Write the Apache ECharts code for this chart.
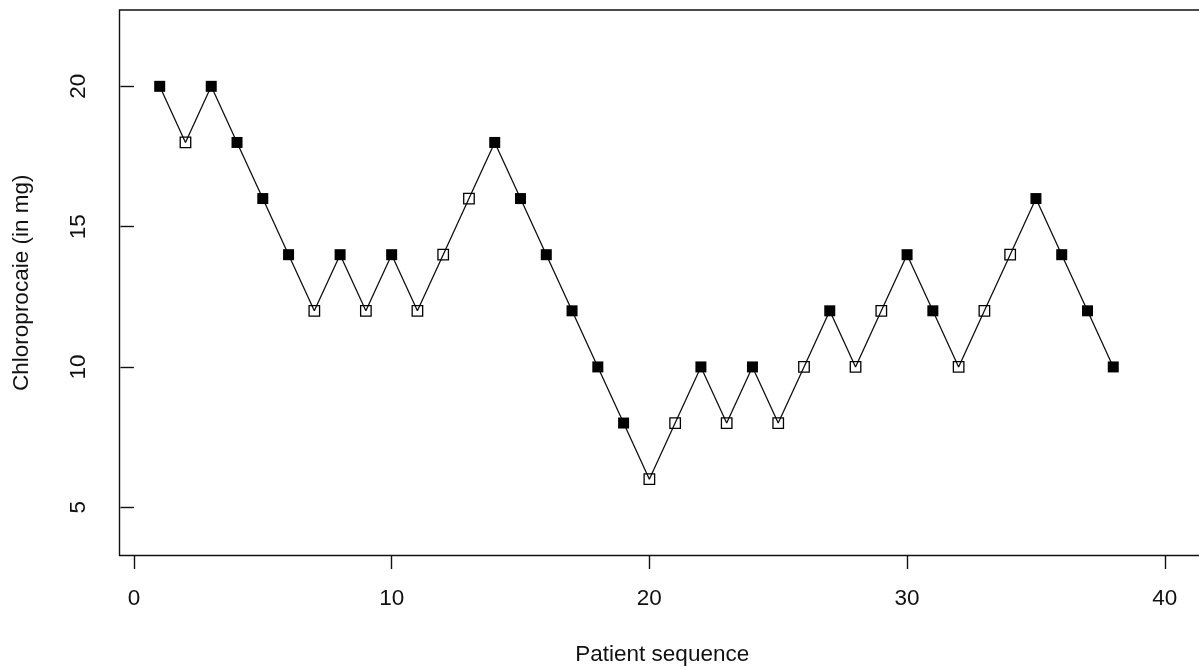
<!DOCTYPE html>
<html>
<head>
<meta charset="utf-8">
<script src="https://cdn.jsdelivr.net/npm/echarts@6/dist/echarts.min.js"></script>
<style>
  html, body { margin: 0; padding: 0; background: #fff; }
  #chart { width: 1199px; height: 668px; }
</style>
</head>
<body>
<div id="chart"></div>
<script>
// Up-and-down sequence: dose given to each patient, and whether it worked
var patients = [1, 2, 3, 4, 5, 6, 7, 8, 9, 10, 11, 12, 13, 14, 15, 16, 17, 18, 19, 20,
                21, 22, 23, 24, 25, 26, 27, 28, 29, 30, 31, 32, 33, 34, 35, 36, 37, 38];
var doses = [20, 18, 20, 18, 16, 14, 12, 14, 12, 14, 12, 14, 16, 18, 16, 14, 12, 10, 8, 6,
             8, 10, 8, 10, 8, 10, 12, 10, 12, 14, 12, 10, 12, 14, 16, 14, 12, 10];
// 1 = success (filled square), 0 = failure (open square)
var success = [1, 0, 1, 1, 1, 1, 0, 1, 0, 1, 0, 0, 0, 1, 1, 1, 1, 1, 1, 0,
               0, 1, 0, 1, 0, 0, 1, 0, 0, 1, 1, 0, 0, 0, 1, 1, 1, 1];

var xTicks = [0, 10, 20, 30, 40];
var yTicks = [5, 10, 15, 20];

var FONT = '"Liberation Sans", Arial, sans-serif';
var INK = '#111';
var FS = 22.5;

var linePoints = patients.map((p, i) => [p, doses[i]]);
var filledPoints = linePoints.filter((d, i) => success[i] === 1);
var openPoints = linePoints.filter((d, i) => success[i] === 0);

var chart = echarts.init(document.getElementById('chart'), null, { renderer: 'canvas' });

chart.setOption({
    animation: false,
    backgroundColor: '#fff',
    grid: {
        left: 119.5,
        top: 10,
        width: 1085.5,
        bottom: 112.5,
        outerBoundsMode: 'none',
        containLabel: false,
        show: true,
        borderColor: INK,
        borderWidth: 1.4,
        backgroundColor: 'transparent'
    },
    xAxis: {
        type: 'value',
        min: -0.56,
        max: 41.56,
        name: 'Patient sequence',
        nameLocation: 'middle',
        nameGap: 88,
        nameTextStyle: { fontFamily: FONT, fontSize: FS, color: INK },
        axisLine: { show: false },
        axisTick: {
            show: true,
            length: 13.5,
            customValues: xTicks,
            lineStyle: { color: INK, width: 1.4 }
        },
        axisLabel: {
            show: true,
            customValues: xTicks,
            margin: 32,
            fontFamily: FONT,
            fontSize: FS,
            color: INK
        },
        splitLine: { show: false }
    },
    yAxis: {
        type: 'value',
        min: 3.28,
        max: 22.72,
        name: 'Chloroprocaie (in mg)',
        nameLocation: 'middle',
        nameGap: 86,
        nameTextStyle: { fontFamily: FONT, fontSize: FS, color: INK },
        axisLine: { show: false },
        axisTick: {
            show: true,
            length: 13.5,
            customValues: yTicks,
            lineStyle: { color: INK, width: 1.4 }
        },
        axisLabel: {
            show: true,
            customValues: yTicks,
            rotate: 90,
            margin: 29,
            fontFamily: FONT,
            fontSize: FS,
            color: INK
        },
        splitLine: { show: false }
    },
    series: [
        {
            // connecting path drawn first so open squares show it through
            type: 'line',
            data: linePoints,
            symbol: 'none',
            lineStyle: { color: INK, width: 1.3 },
            z: 2
        },
        {
            type: 'scatter',
            data: filledPoints,
            symbol: 'rect',
            symbolSize: 11,
            itemStyle: { color: '#000', opacity: 1 },
            z: 3
        },
        {
            type: 'scatter',
            data: openPoints,
            symbol: 'rect',
            symbolSize: 10.5,
            itemStyle: { color: 'rgba(0,0,0,0)', borderColor: '#000', borderWidth: 1.3, opacity: 1 },
            z: 3
        }
    ]
});
</script>
</body>
</html>
